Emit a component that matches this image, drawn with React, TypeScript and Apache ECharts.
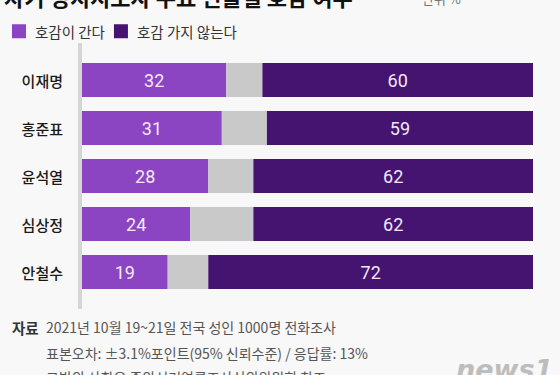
import React, { useEffect, useRef } from "react";
import * as echarts from "echarts";

const categories = ["이재명", "홍준표", "윤석열", "심상정", "안철수"];
const favorable = [32, 31, 28, 24, 19];
const undecided = [8, 10, 10, 14, 9];
const unfavorable = [60, 59, 62, 62, 72];
const seriesNames = ["호감이 간다", "호감 가지 않는다"];

const titleText = "차기 정치지도자 주요 인물별 호감 여부";
const unitText = "단위 %";
const sourceLabel = "자료";
const sourceLines = [
  "2021년 10월 19~21일 전국 성인 1000명 전화조사",
  "표본오차: ±3.1%포인트(95% 신뢰수준) / 응답률: 13%",
  "그밖의 사항은 중앙선거여론조사심의위원회 참조",
];

const FONT = "'Noto Sans CJK KR', 'Noto Sans', sans-serif";

export default function App() {
  const ref = useRef<HTMLDivElement>(null);
  useEffect(() => {
    if (!ref.current) return;
    const chart = echarts.init(ref.current, undefined, { renderer: "svg" });
    const valueLabel = {
      show: true,
      position: "inside",
      color: "#f4e8f8",
      fontSize: 18,
      fontFamily: "Roboto, 'Noto Sans', sans-serif",
    };
    chart.setOption({
      animation: false,
      backgroundColor: "#f8f8f8",
      textStyle: { fontFamily: FONT },
      legend: {
        data: seriesNames,
        left: 7,
        top: 19,
        icon: "rect",
        itemWidth: 14,
        itemHeight: 14,
        itemGap: 9,
        textStyle: { fontSize: 14.5, color: "#333", fontFamily: FONT, padding: [0, 0, 0, 4] },
      },
      grid: { left: 82, right: 27, top: 56, bottom: 79 },
      xAxis: {
        type: "value",
        min: 0,
        max: 100,
        show: false,
      },
      yAxis: {
        type: "category",
        data: categories,
        inverse: true,
        axisLine: { show: false },
        axisTick: { show: false },
        axisLabel: { color: "#1a1a1a", fontSize: 15, margin: 19, fontFamily: FONT, fontWeight: 500 },
      },
      series: [
        {
          name: seriesNames[0],
          type: "bar",
          stack: "total",
          barWidth: 34,
          data: favorable,
          itemStyle: { color: "#8c45c2" },
          label: valueLabel,
        },
        {
          name: "gap",
          type: "bar",
          stack: "total",
          barWidth: 34,
          data: undecided,
          itemStyle: { color: "#c9c9c9" },
          label: { show: false },
        },
        {
          name: seriesNames[1],
          type: "bar",
          stack: "total",
          barWidth: 34,
          data: unfavorable,
          itemStyle: { color: "#441470" },
          label: valueLabel,
        },
      ],
      graphic: [
        {
          type: "rect",
          shape: { x: 78, y: 43, width: 4, height: 266 },
          style: { fill: "#d6d6d6" },
          z: -1,
        },
        {
          type: "text",
          x: 4,
          y: -4,
          style: {
            text: titleText,
            fontSize: 22,
            fontWeight: "bold",
            fill: "#111",
            fontFamily: FONT,
            textVerticalAlign: "middle",
          },
        },
        {
          type: "text",
          x: 422,
          y: -2,
          style: {
            text: unitText,
            fontSize: 13,
            fill: "#777",
            fontFamily: FONT,
            textVerticalAlign: "middle",
          },
        },
        {
          type: "text",
          x: 12,
          y: 327,
          style: {
            text: sourceLabel,
            fontSize: 14.5,
            fontWeight: "bold",
            fill: "#333",
            fontFamily: FONT,
            textVerticalAlign: "middle",
          },
        },
        ...sourceLines.map((t, i) => ({
          type: "text",
          x: 46,
          y: [327, 353, 377][i],
          style: {
            text: t,
            fontSize: 14,
            fill: "#555",
            fontFamily: FONT,
            textVerticalAlign: "middle",
          },
        })),
        {
          type: "text",
          x: 456,
          y: 356,
          style: {
            text: "news1",
            fontSize: 27,
            fontWeight: "bold",
            fontStyle: "italic",
            fill: "#bdbdbd",
            fontFamily: "'DejaVu Sans', sans-serif",
            textVerticalAlign: "top",
          },
        },
      ],
    });
    return () => chart.dispose();
  }, []);
  return (
    <div
      ref={ref}
      style={{ position: "fixed", left: 0, top: 0, width: 560, height: 375 }}
    />
  );
}
